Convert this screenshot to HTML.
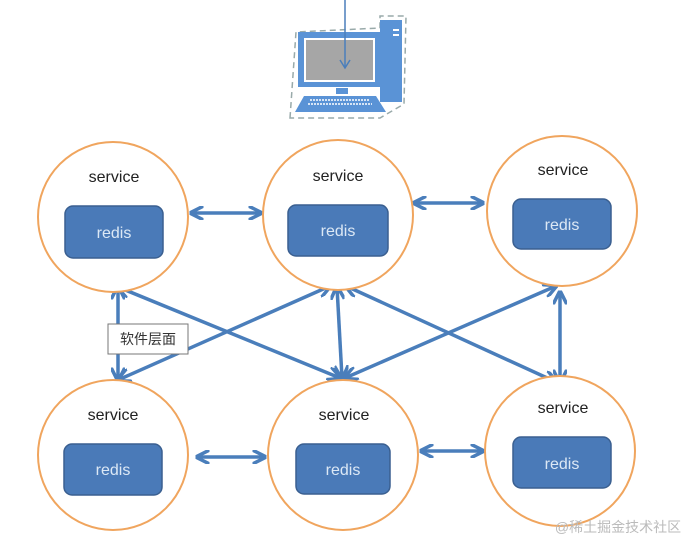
<!DOCTYPE html>
<html><head><meta charset="utf-8"><style>
html,body{margin:0;padding:0;background:#fff;width:681px;height:541px;overflow:hidden}
text{font-family:"Liberation Sans","Noto Sans CJK SC",sans-serif}
</style></head><body>
<svg width="681" height="541" viewBox="0 0 681 541" xmlns="http://www.w3.org/2000/svg">
<defs>
<marker id="a" viewBox="0 0 10 10" refX="9" refY="5" markerWidth="4" markerHeight="4" orient="auto-start-reverse" markerUnits="strokeWidth">
<path d="M0,0 L10,5 L0,10" fill="none" stroke="#4a7ebb" stroke-width="2.5"/>
</marker>
</defs>
<!-- computer -->
<path d="M290,118 L296,32 L380,28 L380,16 L406,16 L404,104 L380,118 Z" fill="none" stroke="#9aa" stroke-width="1.5" stroke-dasharray="6,4"/>
<rect x="380" y="20" width="22" height="82" fill="#5a93d6"/>
<rect x="393" y="29" width="6" height="2" fill="#fff"/><rect x="393" y="34" width="6" height="2" fill="#fff"/>
<rect x="298" y="32" width="82" height="55" fill="#5a93d6"/>
<rect x="304" y="38" width="71" height="44" fill="#fff"/>
<rect x="306" y="40" width="67" height="40" fill="#a6a6a6"/>
<rect x="336" y="88" width="12" height="6" fill="#5a93d6"/>
<path d="M304,96 L376,96 L386,112 L295,112 Z" fill="#5a93d6"/>
<path d="M310,100 L370,100 M308,104 L372,104" stroke="#fff" stroke-width="1.5" stroke-dasharray="2,1"/>
<line x1="345" y1="0" x2="345" y2="68" stroke="#4a7ebb" stroke-width="1.5"/>
<path d="M340,60 L345,68 L350,60" fill="none" stroke="#4a7ebb" stroke-width="1.5"/>
<!-- connectors -->
<g stroke="#4a7ebb" stroke-width="3.5" fill="none" marker-start="url(#a)" marker-end="url(#a)">
<line x1="191" y1="213" x2="261" y2="213"/>
<line x1="414" y1="203" x2="483" y2="203"/>
<line x1="197" y1="457" x2="265" y2="457"/>
<line x1="421" y1="451" x2="483" y2="451"/>
<line x1="118" y1="287" x2="118" y2="380"/>
<line x1="337" y1="287" x2="342" y2="378"/>
<line x1="560" y1="292" x2="560" y2="382"/>
<line x1="118" y1="287" x2="340" y2="378"/>
<line x1="330" y1="286" x2="118" y2="380"/>
<line x1="346" y1="286" x2="556" y2="382"/>
<line x1="556" y1="286" x2="345" y2="378"/>
</g>
<!-- label -->
<rect x="108" y="324" width="80" height="30" fill="#fff" stroke="#777" stroke-width="1"/>
<text x="148" y="344" font-size="14" text-anchor="middle" fill="#333">软件层面</text>
<!-- nodes -->
<g fill="#fff" stroke="#f0a55e" stroke-width="2">
<circle cx="113" cy="217" r="75"/><circle cx="338" cy="215" r="75"/><circle cx="562" cy="211" r="75"/>
<circle cx="113" cy="455" r="75"/><circle cx="343" cy="455" r="75"/><circle cx="560" cy="451" r="75"/>
</g>
<g fill="#4a7ab8" stroke="#3a5f90" stroke-width="1.5">
<rect x="65" y="206" width="98" height="52" rx="8"/>
<rect x="288" y="205" width="100" height="51" rx="8"/>
<rect x="513" y="199" width="98" height="50" rx="8"/>
<rect x="64" y="444" width="98" height="51" rx="8"/>
<rect x="296" y="444" width="94" height="50" rx="8"/>
<rect x="513" y="437" width="98" height="51" rx="8"/>
</g>
<g font-size="16" fill="#222" text-anchor="middle">
<text x="114" y="182">service</text><text x="338" y="181">service</text><text x="563" y="175">service</text>
<text x="113" y="420">service</text><text x="344" y="420">service</text><text x="563" y="413">service</text>
</g>
<g font-size="16" fill="#dce8f5" text-anchor="middle">
<text x="114" y="238">redis</text><text x="338" y="236">redis</text><text x="562" y="230">redis</text>
<text x="113" y="475">redis</text><text x="343" y="475">redis</text><text x="562" y="469">redis</text>
</g>
<text x="618" y="532" font-size="14" fill="#bbb" text-anchor="middle" font-family="'Noto Serif CJK SC',serif">@稀土掘金技术社区</text>
</svg>
</body></html>
